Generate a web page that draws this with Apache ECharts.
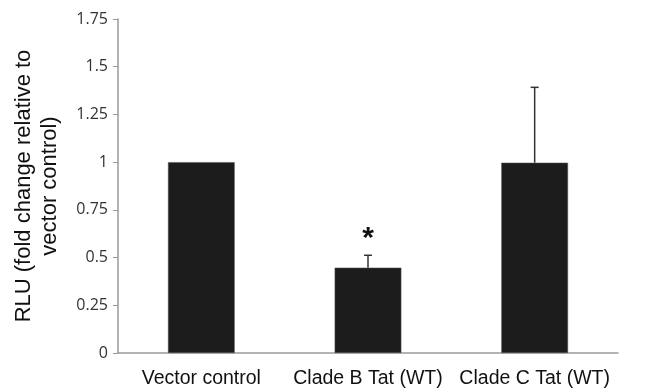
<!DOCTYPE html>
<html>
<head>
<meta charset="utf-8">
<script src="https://cdn.jsdelivr.net/npm/echarts@6/dist/echarts.min.js"></script>
<style>
  html, body { margin: 0; padding: 0; background: #fff; }
  #main { width: 650px; height: 391px; }
</style>
</head>
<body>
<div id="main"></div>
<script>
// data
var categories = ['Vector control', 'Clade B Tat (WT)', 'Clade C Tat (WT)'];
var rluValues = [1.0, 0.447, 0.997];
var rluErrors = [0, 0.065, 0.395];  // upper error only
var sigMarks = ['', '*', ''];
var yTicks = { min: 0, max: 1.75, interval: 0.25 };

var myChart = echarts.init(document.getElementById('main'));

var errData = [];
for (var i = 0; i < categories.length; i++) {
    errData.push([i, rluValues[i], rluValues[i] + rluErrors[i], sigMarks[i]]);
}

var option = {
    animation: false,
    grid: { left: 118, right: 32, top: 19, bottom: 38 },
    xAxis: {
        type: 'category',
        data: categories,
        axisLine: { lineStyle: { color: '#9a9a9a', width: 1.5 } },
        axisTick: { show: false },
        axisLabel: {
            interval: 0,
            hideOverlap: false,
            color: '#111',
            fontSize: 19.5,
            fontFamily: 'Liberation Sans',
            margin: 16
        }
    },
    yAxis: {
        type: 'value',
        min: yTicks.min,
        max: yTicks.max,
        interval: yTicks.interval,
        name: 'RLU (fold change relative to\nvector control)',
        nameLocation: 'middle',
        nameGap: 55,
        nameRotate: 90,
        nameTextStyle: {
            color: '#111',
            fontSize: 22,
            fontFamily: 'Liberation Sans',
            lineHeight: 26
        },
        splitLine: { show: false },
        axisLine: { show: true, lineStyle: { color: '#9a9a9a', width: 1.5 } },
        axisTick: { show: true, length: 5, lineStyle: { color: '#9a9a9a' } },
        axisLabel: {
            color: '#333',
            fontSize: 16,
            fontFamily: 'Open Sans',
            margin: 10,
            formatter: function (v) { return String(v); }
        }
    },
    series: [
        {
            type: 'bar',
            data: rluValues,
            barWidth: '40%',
            itemStyle: { color: '#1c1c1c', borderColor: '#555', borderWidth: 0.5 }
        },
        {
            type: 'custom',
            data: errData,
            z: 5,
            renderItem: function (params, api) {
                var x = api.value(0);
                var lo = api.coord([x, api.value(1)]);
                var hi = api.coord([x, api.value(2)]);
                var children = [];
                if (hi[1] < lo[1] - 0.5) {
                    children.push({
                        type: 'line',
                        shape: { x1: lo[0], y1: lo[1], x2: hi[0], y2: hi[1] },
                        style: { stroke: '#333', lineWidth: 1.5 }
                    });
                    children.push({
                        type: 'line',
                        shape: { x1: hi[0] - 4, y1: hi[1], x2: hi[0] + 4, y2: hi[1] },
                        style: { stroke: '#333', lineWidth: 1.5 }
                    });
                }
                var mark = api.value(3);
                if (mark) {
                    children.push({
                        type: 'text',
                        style: {
                            text: mark,
                            x: hi[0],
                            y: hi[1] - 2,
                            align: 'center',
                            verticalAlign: 'bottom',
                            fill: '#111',
                            fontSize: 30,
                            fontWeight: 'bold',
                            fontFamily: 'Liberation Sans'
                        }
                    });
                }
                return { type: 'group', children: children };
            }
        }
    ]
};

myChart.setOption(option);
</script>
</body>
</html>
